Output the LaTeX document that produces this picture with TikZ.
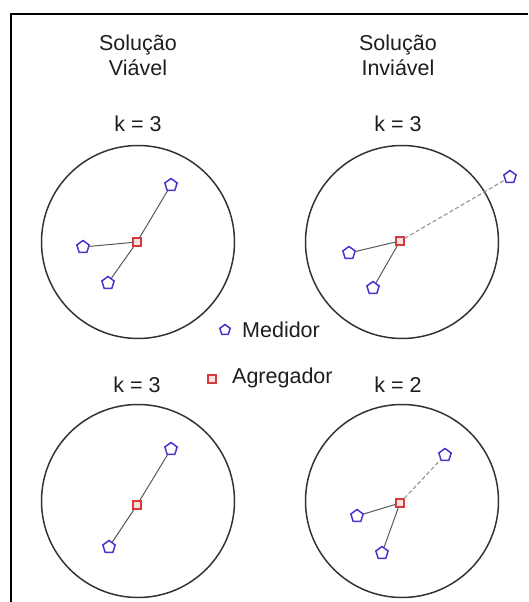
\documentclass[tikz,border=0pt]{standalone}
\usepackage{fontspec}
\setmainfont{Liberation Sans}
\usetikzlibrary{shapes.geometric}
\definecolor{medblue}{RGB}{72,52,205}
\definecolor{agred}{RGB}{215,60,60}
\definecolor{txt}{RGB}{30,30,30}
\begin{document}
\begin{tikzpicture}[x=1pt,y=-1pt,
  zone/.style={circle,draw=black!80,line width=1.5pt,minimum size=193pt,inner sep=0pt},
  medidor/.style={regular polygon,regular polygon sides=5,draw=medblue,line width=1.5pt,minimum size=13pt,inner sep=0pt,fill=white},
  agregador/.style={rectangle,draw=agred,line width=1.2pt,minimum size=8pt,inner sep=0pt,fill=agred!15},
  link/.style={draw=black!65,line width=1pt},
  far/.style={draw=black!40,line width=1.2pt,dash pattern=on 4pt off 2.5pt},
  lbl/.style={font=\fontsize{21.5}{25}\selectfont,text=txt,align=center,inner sep=0pt}]
\useasboundingbox (0,0) rectangle (528,602);
\draw[line width=1.6pt] (11,602) -- (11,14) -- (528,14);

% titles
\node[lbl] (titleA) at (138,55) {Solução\\Viável};
\node[lbl] (titleB) at (398,55) {Solução\\Inviável};
\node[lbl] (kA) at (138,124) {k = 3};
\node[lbl] (kB) at (398,124) {k = 3};
\node[lbl] (kC) at (137,385) {k = 3};
\node[lbl] (kD) at (398,385) {k = 2};

% zones
\node[zone] (zA) at (138,242) {};
\node[zone] (zB) at (402,242) {};
\node[zone] (zC) at (138,501) {};
\node[zone] (zD) at (402,501) {};

% top left
\node[agregador] (agA) at (137,242) {};
\node[medidor] (mA1) at (171,185) {};
\node[medidor] (mA2) at (83,247) {};
\node[medidor] (mA3) at (108,283) {};
\draw[link] (agA) -- (mA1);
\draw[link] (agA) -- (mA2);
\draw[link] (agA) -- (mA3);

% top right
\node[agregador] (agB) at (400,241) {};
\node[medidor] (mB1) at (510,177) {};
\node[medidor] (mB2) at (349,253) {};
\node[medidor] (mB3) at (373,288) {};
\draw[far] (agB) -- (mB1);
\draw[link] (agB) -- (mB2);
\draw[link] (agB) -- (mB3);

% bottom left
\node[agregador] (agC) at (137,505) {};
\node[medidor] (mC1) at (171,449) {};
\node[medidor] (mC2) at (109,547) {};
\draw[link] (agC) -- (mC1);
\draw[link] (agC) -- (mC2);

% bottom right
\node[agregador] (agD) at (400,503) {};
\node[medidor] (mD1) at (445,455) {};
\node[medidor] (mD2) at (357,516) {};
\node[medidor] (mD3) at (382,553) {};
\draw[far] (agD) -- (mD1);
\draw[link] (agD) -- (mD2);
\draw[link] (agD) -- (mD3);

% legend
\node[medidor,minimum size=11pt] (legM) at (225,330) {};
\node[lbl,anchor=west] (legMt) at (242,330) {Medidor};
\node[agregador] (legA) at (212,379) {};
\node[lbl,anchor=west] (legAt) at (232,378) {Agregador};
\end{tikzpicture}
\end{document}
